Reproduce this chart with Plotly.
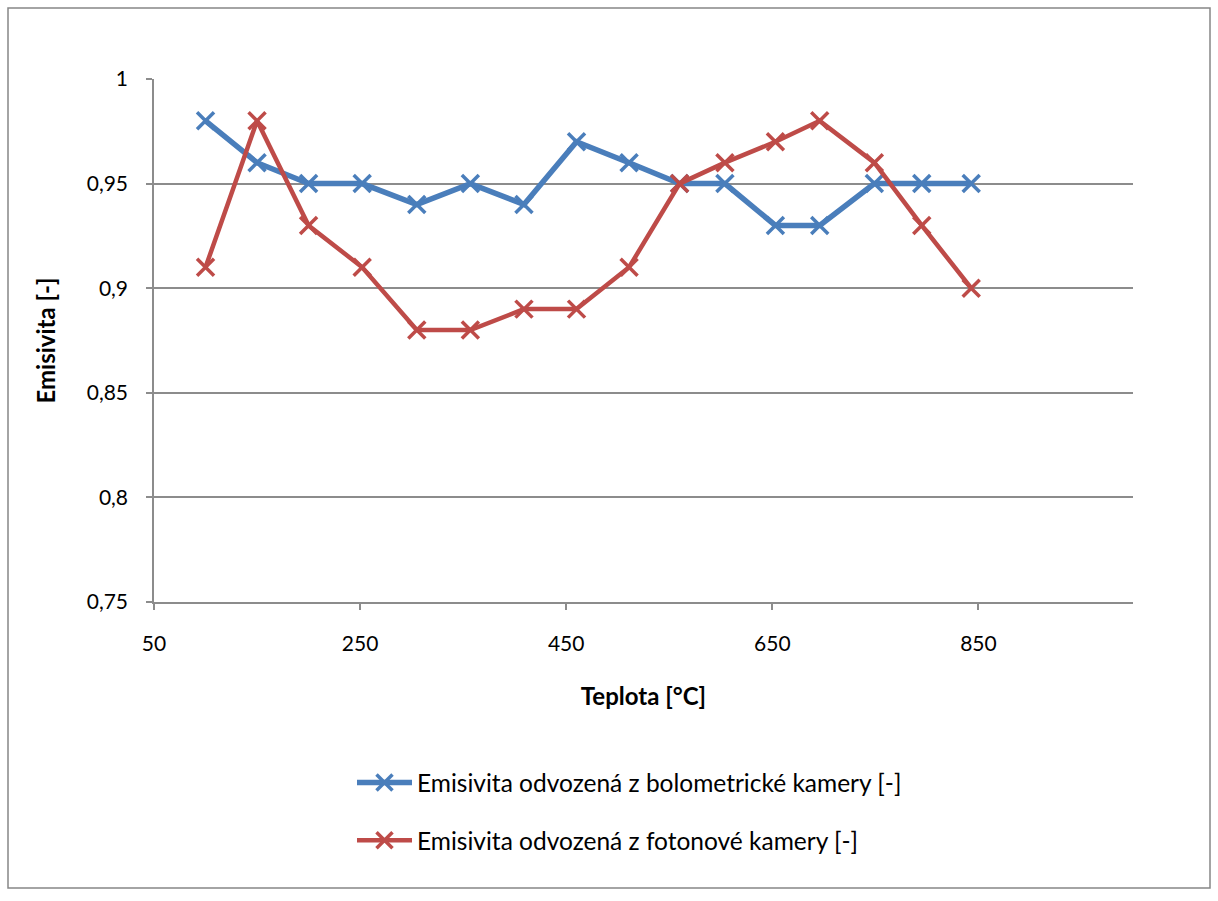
import plotly.graph_objects as go

# Temperature [°C] of each measurement
teplota = [100, 150, 200, 252, 305, 357, 409, 460, 511, 560, 604, 653, 696, 749, 795, 843]

# Emissivity derived from each camera
emis_bolometricka = [0.98, 0.96, 0.95, 0.95, 0.94, 0.95, 0.94, 0.97, 0.96, 0.95,
                     0.95, 0.93, 0.93, 0.95, 0.95, 0.95]
emis_fotonova = [0.91, 0.98, 0.93, 0.91, 0.88, 0.88, 0.89, 0.89, 0.91, 0.95,
                 0.96, 0.97, 0.98, 0.96, 0.93, 0.90]

nazvy = ["Emisivita odvozená z bolometrické kamery [-]",
         "Emisivita odvozená z fotonové kamery [-]"]

BLUE = "#4A7EBB"
RED = "#BE4B48"
GRID = "#8C8C8C"
FONT = "Lato, Calibri, sans-serif"

W, H = 1218, 901
L, R, T, B = 154, 85, 79, 299
pw, ph = W - L - R, H - T - B

fig = go.Figure()
for ys, name, col, lw, grp in [(emis_bolometricka, nazvy[0], BLUE, 5.5, "a"),
                               (emis_fotonova, nazvy[1], RED, 4.5, "b")]:
    fig.add_trace(go.Scatter(
        x=teplota, y=ys, name=name, mode="lines+markers", legendgroup=grp,
        line=dict(color=col, width=lw),
        marker=dict(symbol="x-thin", size=17, line=dict(color=col, width=3.5)),
    ))

# chart-area frame
def px_x(v):
    return (v - L) / pw

def px_y(v):
    return (H - B - v) / ph

fig.add_shape(type="rect", xref="paper", yref="paper",
              x0=px_x(8), x1=px_x(1210), y0=px_y(888), y1=px_y(8),
              line=dict(color="#868686", width=1.5), fillcolor="rgba(0,0,0,0)",
              layer="below")

fig.update_layout(
    width=W, height=H,
    margin=dict(l=L, r=R, t=T, b=B, pad=0),
    paper_bgcolor="white", plot_bgcolor="white",
    separators=", ",
    font=dict(family=FONT, size=21, color="#000000"),
    showlegend=True,
    legend=dict(x=px_x(352), y=px_y(760), xanchor="left", yanchor="top",
                traceorder="grouped", tracegroupgap=23,
                font=dict(family=FONT, size=24.5, color="#000000"),
                bgcolor="rgba(0,0,0,0)", itemwidth=55),
    xaxis=dict(
        range=[50, 1000], tick0=50, dtick=200, showgrid=False,
        showline=True, linecolor=GRID, linewidth=1.5,
        ticks="outside", ticklen=6, tickcolor=GRID, tickwidth=1.5,
        ticklabelstandoff=16, zeroline=False,
        title=dict(text="<b>Teplota [°C]</b>", standoff=34,
                   font=dict(family=FONT, size=24)),
    ),
    yaxis=dict(
        range=[0.75, 1.0], tick0=0.75, dtick=0.05, showgrid=True,
        gridcolor=GRID, gridwidth=1.5,
        showline=True, linecolor=GRID, linewidth=1.5,
        ticks="outside", ticklen=6, tickcolor=GRID, tickwidth=1.5,
        ticklabelstandoff=14, zeroline=False,
        title=dict(text="<b>Emisivita [-]</b>", standoff=24,
                   font=dict(family=FONT, size=24)),
    ),
)

fig.write_html("out.html")
